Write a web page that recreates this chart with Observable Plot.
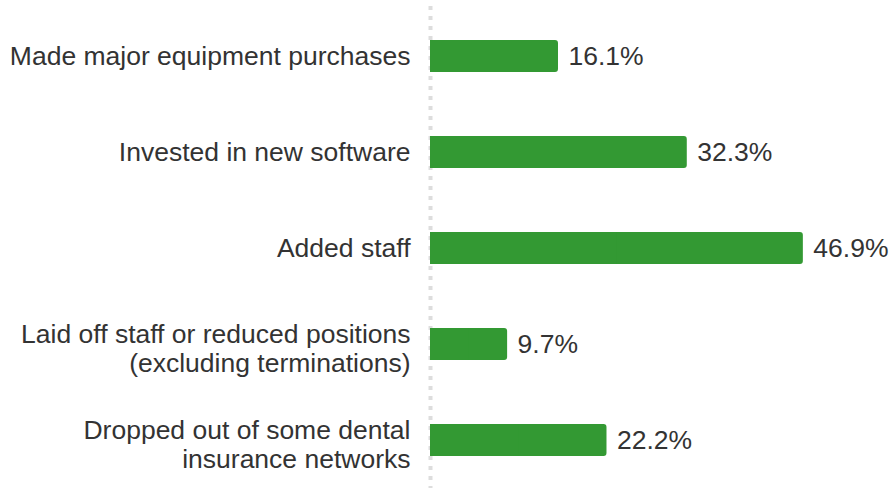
<!DOCTYPE html>
<html>
<head>
<meta charset="utf-8">
<script src="https://cdn.jsdelivr.net/npm/d3@7"></script>
<script src="https://cdn.jsdelivr.net/npm/@observablehq/plot@0.6"></script>
<style>
  html, body { margin: 0; padding: 0; background: #fff; }
  #chart svg { display: block; }
</style>
</head>
<body>
<div id="chart"></div>
<script>
const categories = [
  "Made major equipment purchases",
  "Invested in new software",
  "Added staff",
  "Laid off staff or reduced positions\n(excluding terminations)",
  "Dropped out of some dental\ninsurance networks"
];
const values = [16.1, 32.3, 46.9, 9.7, 22.2];
const valueLabels = ["16.1%", "32.3%", "46.9%", "9.7%", "22.2%"];

const data = categories.map((c, i) => ({ category: c, value: values[i], label: valueLabels[i] }));
const single = data.filter(d => !d.category.includes("\n"));
const multi = data.filter(d => d.category.includes("\n"));

const font = "'Liberation Sans', Arial, Helvetica, sans-serif";
const textColor = "#333333";
const green = "#339933";

const chart = Plot.plot({
  width: 890,
  height: 489,
  marginLeft: 430,
  marginRight: 62.5,
  marginTop: 8,
  marginBottom: 1,
  style: { fontFamily: font, background: "#fff" },
  x: { domain: [0, 50], axis: null },
  y: { domain: categories, axis: null, paddingInner: 2 / 3, paddingOuter: 1 / 3 },
  marks: [
    Plot.ruleX([0], { stroke: "#dddddd", strokeWidth: 4, strokeDasharray: "4,6", insetTop: -2 }),
    Plot.barX(data, { y: "category", x1: 0, x2: "value", fill: green, rx: 3 }),
    Plot.barX(data, { y: "category", x1: 0, x2: d => d.value / 2, fill: green }),
    Plot.text(data, { y: "category", x: "value", text: "label", dx: 10, textAnchor: "start", fill: textColor, fontSize: 26.5, lineAnchor: "middle" }),
    Plot.text(single, { y: "category", x: 0, text: "category", dx: -20, textAnchor: "end", fill: textColor, fontSize: 26.5, lineAnchor: "middle" }),
    Plot.text(multi, { y: "category", x: 0, text: "category", dx: -20, dy: 4, textAnchor: "end", fill: textColor, fontSize: 26.5, lineHeight: 1.06, lineAnchor: "middle" })
  ]
});
document.getElementById("chart").appendChild(chart);
</script>
</body>
</html>
